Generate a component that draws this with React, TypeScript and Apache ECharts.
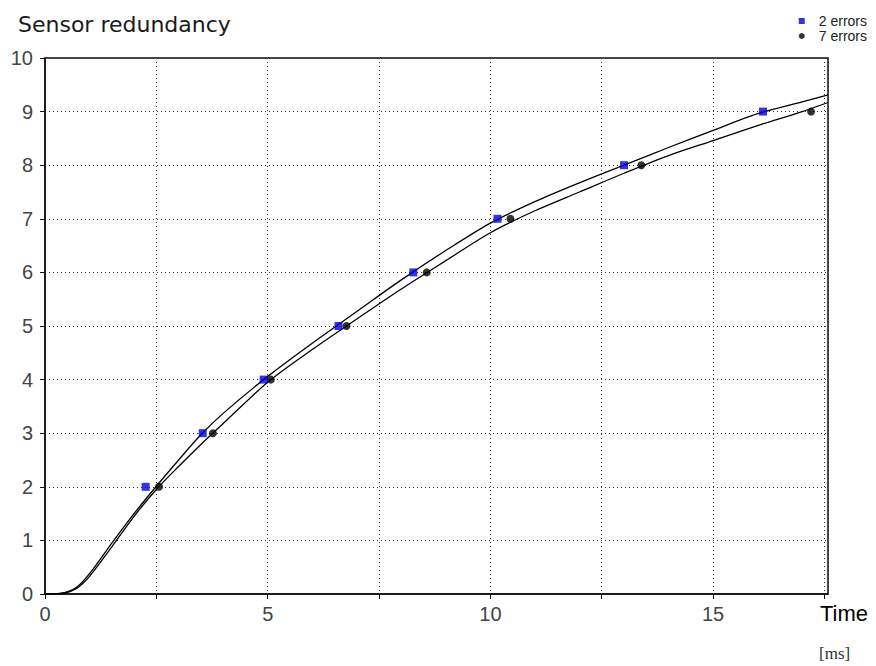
import React, { useEffect, useRef } from "react";
import * as echarts from "echarts";

// Fitted response curves sampled along the time axis (ms)
const curveTime = [0, 0.35, 0.7, 1.0, 1.5, 2.0, 2.5, 3.0, 3.5, 4.0, 5, 6, 7, 8, 9, 10, 11, 12, 13, 14, 15, 16, 17, 17.58];
const curveTwoErrors = [0, 0.01, 0.12, 0.38, 0.95, 1.5, 2.01, 2.5, 2.97, 3.37, 4.06, 4.68, 5.27, 5.86, 6.41, 6.92, 7.32, 7.67, 8.0, 8.33, 8.65, 8.96, 9.18, 9.31];
const curveSevenErrors = [0, 0.01, 0.1, 0.33, 0.88, 1.45, 1.95, 2.38, 2.79, 3.18, 3.95, 4.56, 5.13, 5.69, 6.22, 6.74, 7.15, 7.5, 7.85, 8.18, 8.46, 8.74, 9.0, 9.17];

// Measured points: time (ms) at which each redundancy level is reached
const levels = [2, 3, 4, 5, 6, 7, 8, 9];
const timesTwoErrors = [2.26, 3.54, 4.91, 6.59, 8.27, 10.16, 13.0, 16.12];
const timesSevenErrors = [2.56, 3.77, 5.07, 6.77, 8.57, 10.45, 13.39, 17.2];

const X_MAX = 17.58;
const FONT = "Liberation Sans, Arial, sans-serif";

export default function App() {
  const ref = useRef<HTMLDivElement>(null);

  useEffect(() => {
    if (!ref.current) return;
    const chart = echarts.init(ref.current, undefined, { renderer: "svg" });
    const zip = (xs: number[], ys: number[]) => xs.map((x, i) => [x, ys[i]]);

    chart.setOption({
      animation: false,
      backgroundColor: "#ffffff",
      textStyle: { fontFamily: FONT },
      title: {
        text: "Sensor redundancy",
        left: 13,
        top: 8,
        textStyle: { fontSize: 22, fontWeight: "normal", color: "#1a1a1a", fontFamily: "DejaVu Sans, sans-serif" },
      },
      legend: {
        orient: "vertical",
        right: 4,
        top: 9,
        itemWidth: 6,
        itemHeight: 6,
        itemGap: 1,
        data: [
          { name: "2 errors", icon: "rect" },
          { name: "7 errors", icon: "circle" },
        ],
        textStyle: { fontSize: 14, color: "#222", padding: [0, 0, 0, 9] },
      },
      grid: {
        left: 45,
        right: 48,
        top: 58,
        bottom: 72,
        show: true,
        borderColor: "#111",
        borderWidth: 1.5,
      },
      xAxis: {
        type: "value",
        min: 0,
        max: X_MAX,
        interval: 2.5,
        axisLine: { show: true, lineStyle: { color: "#111", width: 1.5 } },
        axisTick: { show: true, length: 5, lineStyle: { color: "#111" } },
        axisLabel: {
          fontSize: 20,
          color: "#444",
          margin: 10,
          showMaxLabel: false,
          formatter: (v: number) => (Math.abs(v % 5) < 1e-9 ? String(v) : ""),
        },
        splitLine: { show: true, lineStyle: { color: "#333", type: [1, 3], width: 1 } },
      },
      yAxis: {
        type: "value",
        min: 0,
        max: 10,
        interval: 1,
        axisLine: { show: true, lineStyle: { color: "#111", width: 1.5 } },
        axisTick: { show: true, length: 5, lineStyle: { color: "#111" } },
        axisLabel: { fontSize: 20, color: "#444", margin: 12 },
        splitLine: { show: true, lineStyle: { color: "#333", type: [1, 3], width: 1 } },
      },
      graphic: [
        {
          type: "text",
          left: 820,
          top: 602,
          style: { text: "Time", fontSize: 22, fill: "#000", fontFamily: FONT },
        },
        {
          type: "text",
          left: 819,
          top: 645,
          style: { text: "[ms]", fontSize: 17, fill: "#333", fontFamily: "Liberation Serif, serif" },
        },
      ],
      series: [
        {
          name: "curve-2",
          type: "line",
          data: zip(curveTime, curveTwoErrors),
          smooth: 0.3,
          showSymbol: false,
          lineStyle: { color: "#000", width: 1.3 },
          silent: true,
          z: 2,
        },
        {
          name: "curve-7",
          type: "line",
          data: zip(curveTime, curveSevenErrors),
          smooth: 0.3,
          showSymbol: false,
          lineStyle: { color: "#000", width: 1.3 },
          silent: true,
          z: 2,
        },
        {
          name: "2 errors",
          type: "scatter",
          symbol: "rect",
          symbolSize: 8,
          itemStyle: { color: "#0000d8" },
          data: zip(timesTwoErrors, levels),
          z: 3,
        },
        {
          name: "7 errors",
          type: "scatter",
          symbol: "circle",
          symbolSize: 8,
          itemStyle: { color: "#000" },
          data: zip(timesSevenErrors, levels),
          z: 3,
        },
      ],
    });

    return () => chart.dispose();
  }, []);

  return (
    <div
      ref={ref}
      style={{ position: "fixed", left: 0, top: 0, width: 876, height: 666, background: "#fff" }}
    />
  );
}
